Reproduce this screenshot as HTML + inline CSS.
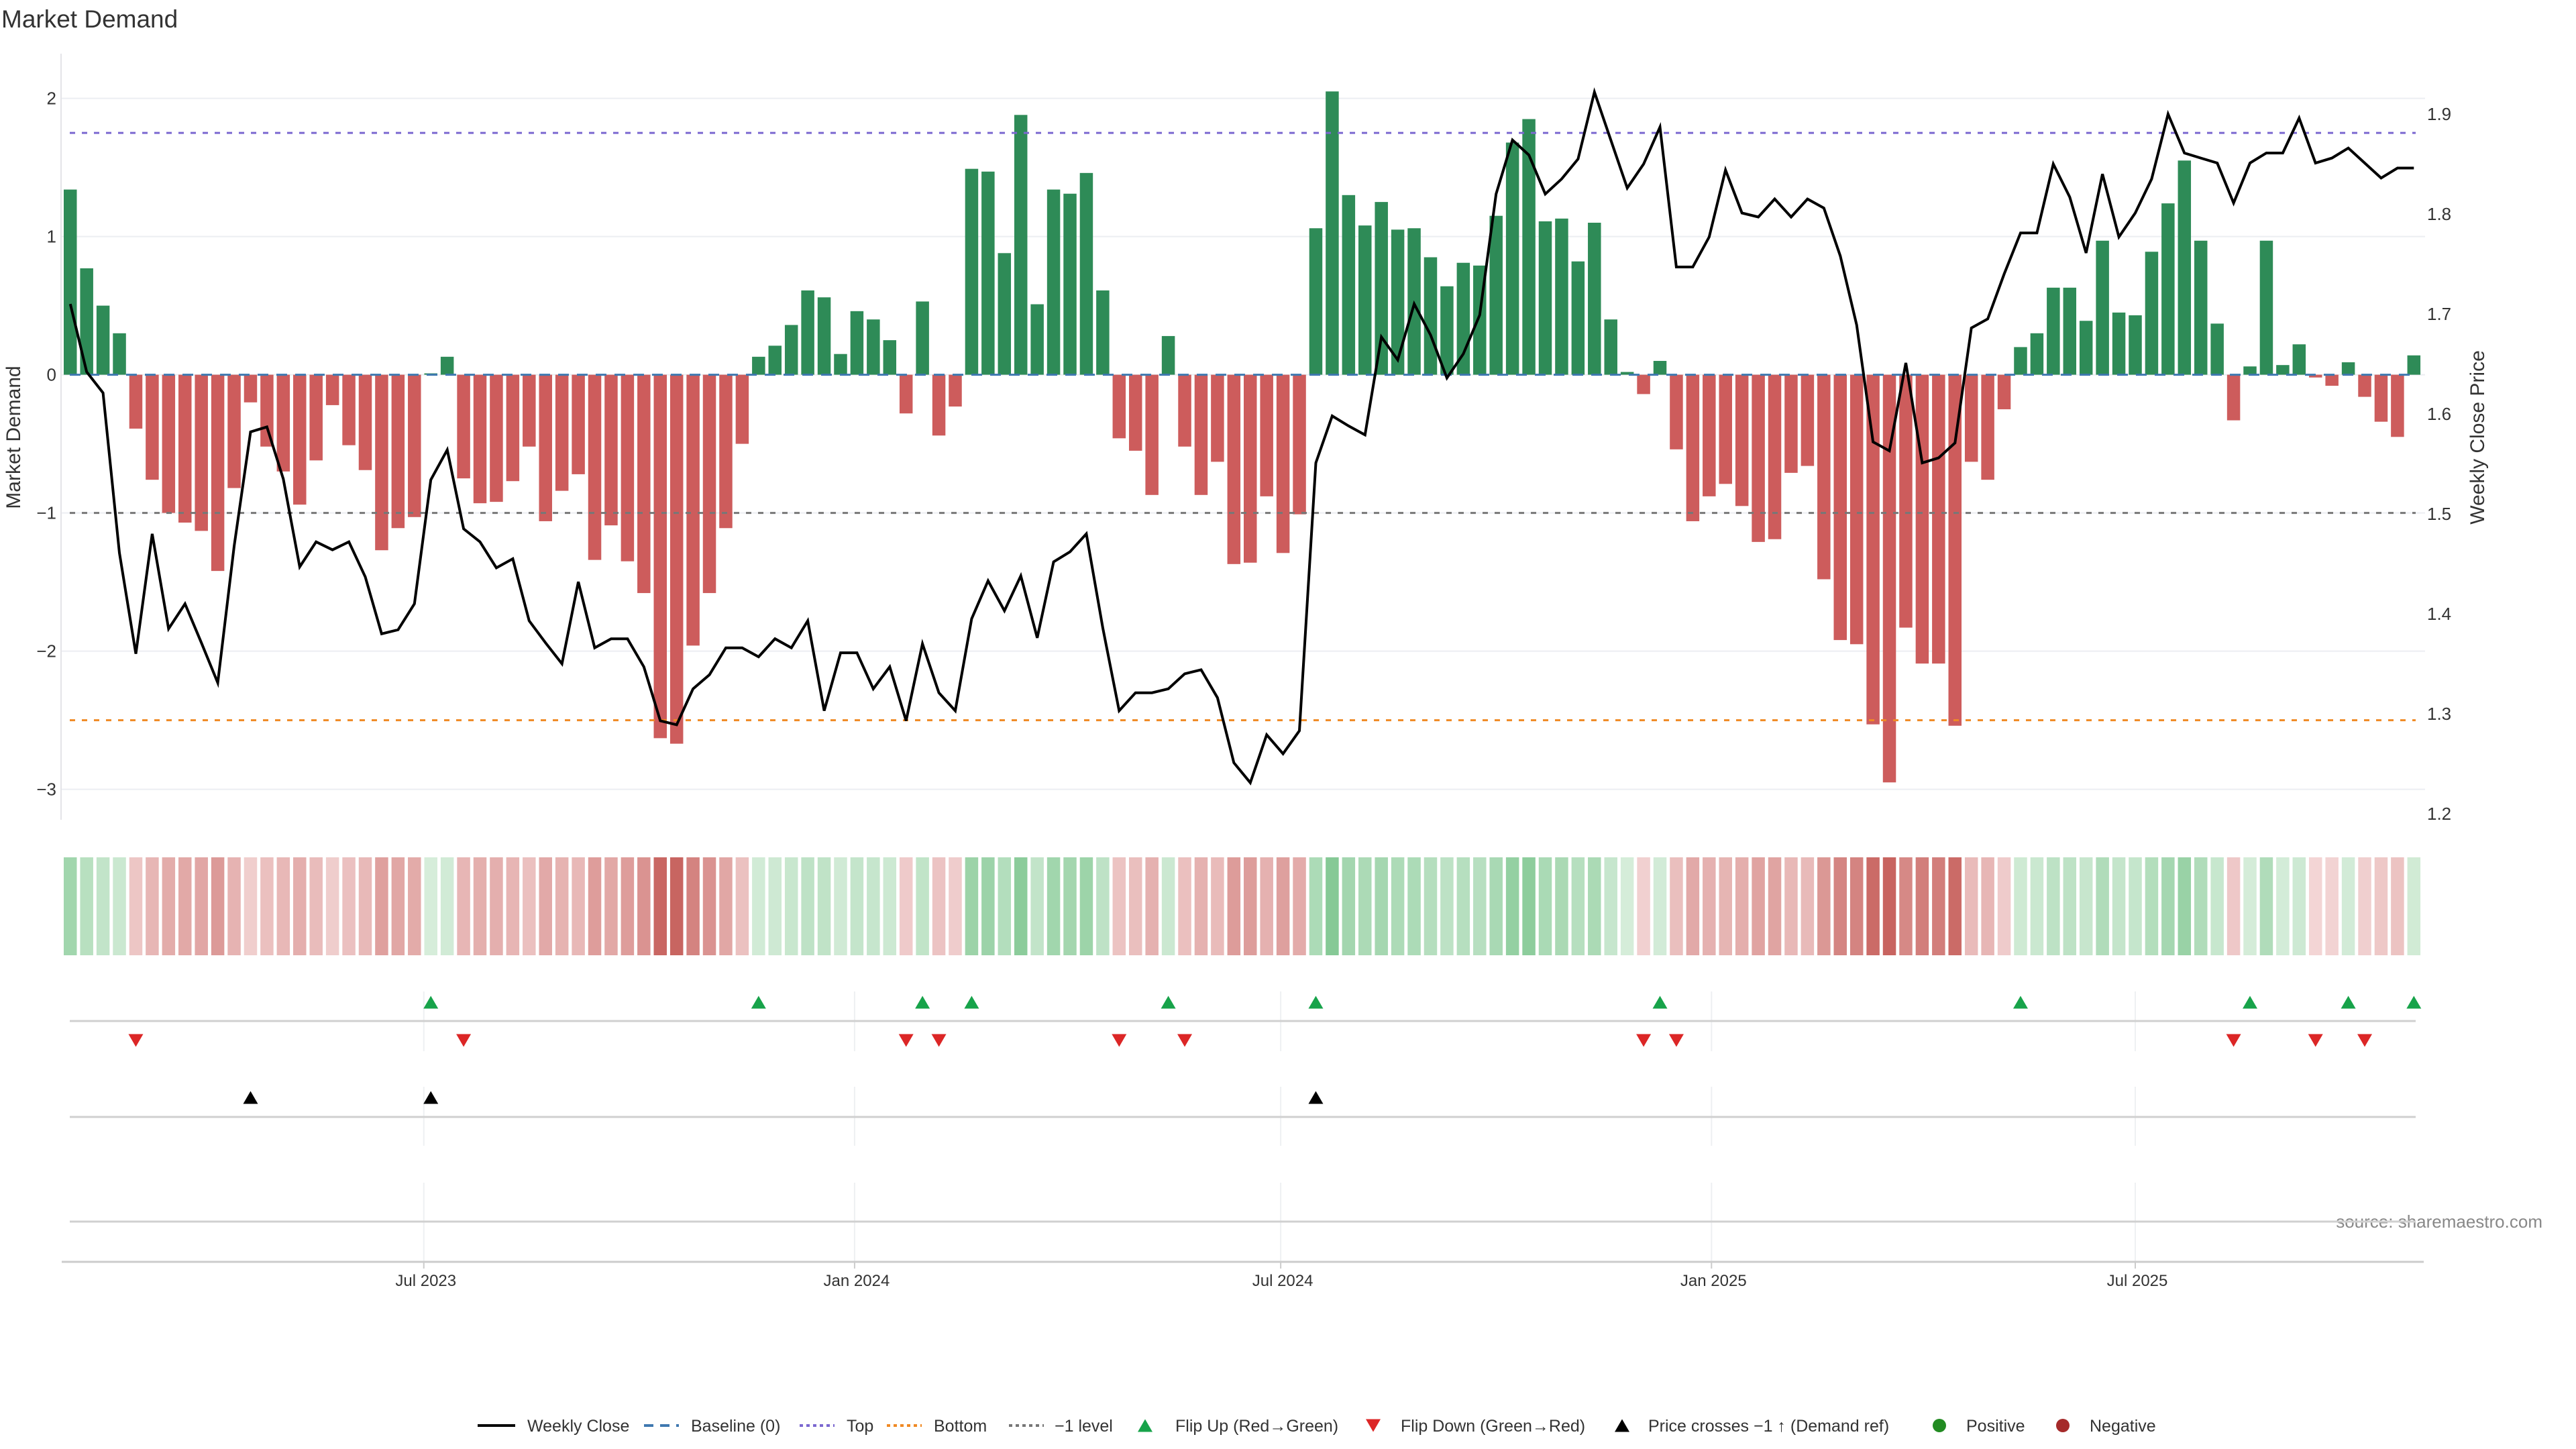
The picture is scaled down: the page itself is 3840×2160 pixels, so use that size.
<!DOCTYPE html>
<html><head><meta charset="utf-8"><title>Market Demand</title>
<style>
html,body{margin:0;padding:0;background:#fff;}
svg{display:block;font-family:"Liberation Sans","DejaVu Sans",sans-serif;}
</style></head>
<body>
<svg id="chart" xmlns="http://www.w3.org/2000/svg" width="3840" height="2160" viewBox="0 0 3840 2160">
<rect x="0" y="0" width="3840" height="2160" fill="#fff"/>
<text x="2" y="41" font-size="37" fill="#333">Market Demand</text>
<text transform="translate(30,652) rotate(-90)" text-anchor="middle" font-size="30" fill="#333">Market Demand</text>
<text transform="translate(3703,652) rotate(-90)" text-anchor="middle" font-size="30" fill="#333">Weekly Close Price</text>
<text x="3790" y="1830" text-anchor="end" font-size="26" fill="#888">source: sharemaestro.com</text>
<g id="grid"></g>
<g id="heat"></g>
<g id="bars"></g>
<g id="refs"></g>
<g id="line"></g>
<g id="axes"></g>
<g id="markers"></g>
<g id="legend"></g>
</svg>
<script>
const demandValues = [1.34,0.77,0.50,0.30,-0.39,-0.76,-1.00,-1.07,-1.13,-1.42,
-0.82,-0.20,-0.52,-0.70,-0.94,-0.62,-0.22,-0.51,-0.69,-1.27,
-1.11,-1.03,0.01,0.13,-0.75,-0.93,-0.92,-0.77,-0.52,-1.06,
-0.84,-0.72,-1.34,-1.09,-1.35,-1.58,-2.63,-2.67,-1.96,-1.58,
-1.11,-0.50,0.13,0.21,0.36,0.61,0.56,0.15,0.46,0.40,
0.25,-0.28,0.53,-0.44,-0.23,1.49,1.47,0.88,1.88,0.51,
1.34,1.31,1.46,0.61,-0.46,-0.55,-0.87,0.28,-0.52,-0.87,
-0.63,-1.37,-1.36,-0.88,-1.29,-1.01,1.06,2.05,1.30,1.08,
1.25,1.05,1.06,0.85,0.64,0.81,0.79,1.15,1.68,1.85,
1.11,1.13,0.82,1.10,0.40,0.02,-0.14,0.10,-0.54,-1.06,
-0.88,-0.79,-0.95,-1.21,-1.19,-0.71,-0.66,-1.48,-1.92,-1.95,
-2.53,-2.95,-1.83,-2.09,-2.09,-2.54,-0.63,-0.76,-0.25,0.20,
0.30,0.63,0.63,0.39,0.97,0.45,0.43,0.89,1.24,1.55,
0.97,0.37,-0.33,0.06,0.97,0.07,0.22,-0.02,-0.08,0.09,
-0.16,-0.34,-0.45,0.14];
const closePrices = [1.710,1.642,1.621,1.461,1.360,1.480,1.385,1.410,1.371,1.331,
1.468,1.582,1.587,1.535,1.447,1.472,1.464,1.472,1.437,1.380,
1.384,1.410,1.534,1.564,1.485,1.472,1.446,1.455,1.393,1.371,
1.350,1.432,1.366,1.375,1.375,1.347,1.293,1.289,1.325,1.339,
1.366,1.366,1.357,1.375,1.366,1.393,1.303,1.361,1.361,1.325,
1.347,1.293,1.370,1.321,1.303,1.395,1.433,1.403,1.438,1.376,
1.452,1.462,1.480,1.386,1.303,1.321,1.321,1.325,1.340,1.344,
1.316,1.251,1.231,1.279,1.260,1.283,1.551,1.598,1.588,1.579,
1.677,1.654,1.710,1.679,1.636,1.660,1.699,1.820,1.874,1.859,
1.820,1.835,1.855,1.922,1.874,1.826,1.850,1.887,1.747,1.747,
1.777,1.844,1.801,1.797,1.815,1.797,1.815,1.806,1.758,1.689,
1.572,1.563,1.651,1.551,1.556,1.571,1.686,1.695,1.740,1.781,
1.781,1.850,1.817,1.761,1.840,1.777,1.801,1.835,1.900,1.861,
1.856,1.851,1.811,1.851,1.861,1.861,1.896,1.851,1.856,1.866,
1.851,1.836,1.846,1.846];
const startDate = "2023-01-31";
const xTickLabels = ["Jul 2023","Jan 2024","Jul 2024","Jan 2025","Jul 2025"];
const xTickDates = ["2023-07-01","2024-01-01","2024-07-01","2025-01-01","2025-07-01"];
const leftTickValues = [2,1,0,-1,-2,-3];
const rightTickValues = [1.9,1.8,1.7,1.6,1.5,1.4,1.3,1.2];
const refLevels = [1.75, -2.5, -1, 0];
const priceCrossLevel = 1.5;

const NS = "http://www.w3.org/2000/svg";
const PL = 95, PR = 3613;
const N = demandValues.length;
const STEP = (PR - PL) / N;
function xBand(i){ return PL + i*STEP; }
function xCenter(i){ return PL + i*STEP + 9.75; }
function xDate(s){ const d=(new Date(s+"T00:00:00Z")-new Date(startDate+"T00:00:00Z"))/86400000; return xCenter(0)+d/7*STEP; }
function yL(v){ return 558.6 - v*206; }
function yR(p){ return 170 + (1.9-p)*1490; }
function mk(tag, attrs, parent){ const e=document.createElementNS(NS,tag); for(const k in attrs) e.setAttribute(k,attrs[k]); parent.appendChild(e); return e; }
const G = id => document.getElementById(id);

const grid=G('grid'), axes=G('axes');
leftTickValues.forEach(v=>{
  const l=mk('line',{x1:91,x2:3615,y1:yL(v),y2:yL(v),stroke:'#eceef2','stroke-width':2},grid);
  
  
  const t=mk('text',{x:84,y:yL(v)+9,'text-anchor':'end','font-size':26,fill:'#333'},axes);
  t.textContent=(v<0?'\u2212'+(-v):String(v));
  
  
});
rightTickValues.forEach(p=>{
  const t=mk('text',{x:3618,y:yR(p)+9,'font-size':26,fill:'#333'},axes);
  t.textContent=p.toFixed(1);
  
  
});
const sp=mk('line',{x1:91,x2:91,y1:80,y2:1222,stroke:'#e4e4e8','stroke-width':2},axes);


const xa=mk('line',{x1:92,x2:3613,y1:1881,y2:1881,stroke:'#ccc','stroke-width':3},axes);


[[1478,1567],[1620,1708],[1763,1880]].forEach(r=>{
  xTickDates.forEach(d=>{
    const vl=mk('line',{x1:xDate(d),x2:xDate(d),y1:r[0],y2:r[1],stroke:'#eef0f2','stroke-width':2},grid);
    
    
  });
});
[1522,1665,1821].forEach(y=>{
  const hl=mk('line',{x1:104,x2:3601,y1:y,y2:y,stroke:'#d0d0d0','stroke-width':3},axes);
  
  
});
xTickLabels.forEach((lab,k)=>{
  const x=xDate(xTickDates[k]);
  const tk=mk('line',{x1:x,x2:x,y1:1881,y2:1891,stroke:'#ccc','stroke-width':2},axes);
  
  
  const t=mk('text',{x:x+3,y:1917,'text-anchor':'middle','font-size':24,fill:'#333'},axes);
  t.textContent=lab;
  
  
});

function mix(a,b,t){ return 'rgb('+a.map((c,i)=>Math.round(c+(b[i]-c)*t)).join(',')+')'; }
const heat=G('heat');
demandValues.forEach((v,i)=>{
  const t=Math.min(Math.abs(v)/2.7,1);
  const col=v>=0?mix([214,237,218],[108,190,128],t):mix([243,214,214],[200,100,96],t);
  const r=mk('rect',{x:xBand(i),y:1278,width:19.5,height:146,fill:col},heat);
  
  
});

const bars=G('bars');
demandValues.forEach((v,i)=>{
  const y0=yL(0), y1=yL(v);
  const r=mk('rect',{x:xBand(i),y:Math.min(y0,y1),width:19.5,height:Math.max(Math.abs(y1-y0),0.5),fill:v>=0?'#2e8b57':'#cd5c5c'},bars);
  
  
});

const refs=G('refs');
const refStyles=[['#7b68d0','8,10','top-line'],['#f08a24','8,10','bottom-line'],['#777','8,10','minus-one-level-line'],['#3f78b0','16,12','baseline-zero']];
refLevels.forEach((v,k)=>{
  const l=mk('line',{x1:104,x2:3601,y1:yL(v),y2:yL(v),stroke:refStyles[k][0],'stroke-width':3,'stroke-dasharray':refStyles[k][1]},refs);
  
  
});

const pts=closePrices.map((p,i)=>xCenter(i).toFixed(1)+','+yR(p).toFixed(1)).join(' ');
const pl=mk('polyline',{points:pts,fill:'none',stroke:'#000','stroke-width':4,'stroke-linejoin':'miter'},G('line'));



const mg=G('markers');
function tri(x,y,up,col,name){
  const h=19,w=11;
  const p=up?`${x-w},${y+h/2} ${x+w},${y+h/2} ${x},${y-h/2}`:`${x-w},${y-h/2} ${x+w},${y-h/2} ${x},${y+h/2}`;
  const e=mk('polygon',{points:p,fill:col},mg);
  
  
}
for(let i=1;i<N;i++){
  const a=demandValues[i-1]>=0, b=demandValues[i]>=0;
  if(!a&&b) tri(xCenter(i),1494,true,'#17a34a','flip-up-marker');
  if(a&&!b) tri(xCenter(i),1551,false,'#dc2626','flip-down-marker');
  if(closePrices[i-1]<priceCrossLevel&&closePrices[i]>=priceCrossLevel) tri(xCenter(i),1636,true,'#000','price-cross-marker');
}

const lg=G('legend'), LY=2125;
function ltext(x,s){ const t=mk('text',{x:x,y:LY+9,'font-size':25,fill:'#333'},lg); t.textContent=s;   }
function lline(x1,x2,col,dash,w,name){ const l=mk('line',{x1:x1,x2:x2,y1:LY,y2:LY,stroke:col,'stroke-width':w,'stroke-dasharray':dash},lg);   }
lline(712,768,'#000','none',4,'legend-weekly-close'); ltext(786,'Weekly Close');
lline(960,1012,'#3f78b0','14,10',4,'legend-baseline'); ltext(1030,'Baseline (0)');
lline(1192,1244,'#7b68d0','5,5',4,'legend-top'); ltext(1262,'Top');
lline(1322,1374,'#f08a24','5,5',4,'legend-bottom'); ltext(1392,'Bottom');
lline(1504,1556,'#777','5,5',4,'legend-minus-one'); ltext(1572,'\u22121 level');
tri(1707,LY,true,'#17a34a','legend-flip-up'); ltext(1752,'Flip Up (Red\u2192Green)');
tri(2047,LY,false,'#dc2626','legend-flip-down'); ltext(2088,'Flip Down (Green\u2192Red)');
tri(2418,LY,true,'#000','legend-price-cross'); ltext(2457,'Price crosses \u22121 \u2191 (Demand ref)');
const c1=mk('circle',{cx:2891,cy:LY,r:10,fill:'#228b22'},lg);   ltext(2931,'Positive');
const c2=mk('circle',{cx:3075,cy:LY,r:10,fill:'#a52a2a'},lg);   ltext(3115,'Negative');
</script>
</body></html>
